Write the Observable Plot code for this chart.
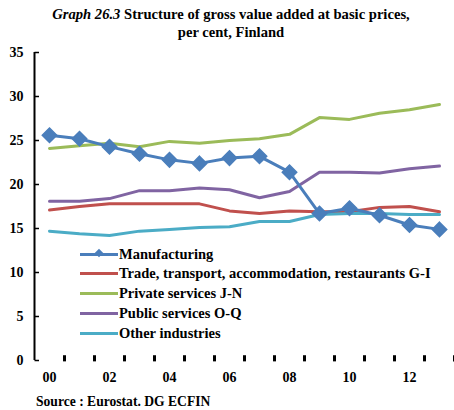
<!DOCTYPE html>
<html><head><meta charset="utf-8">
<script src="https://cdn.jsdelivr.net/npm/d3@7"></script>
<script src="https://cdn.jsdelivr.net/npm/@observablehq/plot@0.6"></script>
<style>
body{margin:0;background:#fff;font-family:"Liberation Serif","DejaVu Serif",serif;}
#wrap{position:relative;width:454px;height:410px;overflow:hidden;background:#fff;}
#title{position:absolute;top:5px;left:0;width:462px;text-align:center;font-weight:bold;font-size:14.6px;line-height:18px;color:#000;}
#chart{position:absolute;top:42px;left:0;}
#source{position:absolute;top:394px;left:36px;font-weight:bold;font-size:13.6px;line-height:16px;}
.row{position:absolute;left:80px;height:18px;display:flex;align-items:center;font-weight:bold;font-size:14.5px;white-space:nowrap;}
.sw{position:relative;width:38px;height:3px;margin-right:1px;}
.dm{position:absolute;left:16px;top:-2.5px;width:6px;height:6px;transform:rotate(45deg);}
</style>
</head><body>
<div id="wrap">
  <div id="title"><i>Graph 26.3</i> Structure of gross value added at basic prices,<br>per cent, Finland</div>
  <div id="chart"></div>
  <div id="legend"></div>
  <div id="source">Source : Eurostat. DG ECFIN</div>
</div>
<script>
const years = [2000,2001,2002,2003,2004,2005,2006,2007,2008,2009,2010,2011,2012,2013];
const manufacturing = [25.6,25.2,24.3,23.5,22.8,22.4,23.0,23.2,21.4,16.7,17.3,16.5,15.4,14.9];
const trade         = [17.1,17.5,17.8,17.8,17.8,17.8,17.0,16.7,17.0,16.9,16.9,17.4,17.5,16.9];
const privateServ   = [24.1,24.4,24.7,24.3,24.9,24.7,25.0,25.2,25.7,27.6,27.4,28.1,28.5,29.1];
const publicServ    = [18.1,18.1,18.4,19.3,19.3,19.6,19.4,18.5,19.2,21.4,21.4,21.3,21.8,22.1];
const other         = [14.7,14.4,14.2,14.7,14.9,15.1,15.2,15.8,15.8,16.6,16.7,16.7,16.6,16.6];

const seriesNames = ["Manufacturing","Trade, transport, accommodation, restaurants G-I","Private services J-N","Public services O-Q","Other industries"];
const seriesValues = [manufacturing, trade, privateServ, publicServ, other];
const seriesColors = ["#4a7ebb","#c0504d","#9bbb59","#8064a2","#4bacc6"];
const yTicks = [0,5,10,15,20,25,30,35];
const xLabelYears = [2000,2002,2004,2006,2008,2010,2012];
const xTickLabel = y => String(y).slice(2);

const rows = [];
seriesNames.forEach((name, i) => years.forEach((yr, j) => rows.push({series: name, year: yr, value: seriesValues[i][j], color: seriesColors[i]})));
const boundaries = [years[0] - 0.5, ...years.map(y => y + 0.5)];

const drawOrder = [1,2,3,4,0];
const lineMarks = drawOrder.map(i => Plot.lineY(rows.filter(r => r.series === seriesNames[i]), {x: "year", y: "value", stroke: seriesColors[i], strokeWidth: 3, curve: "linear"}));

const chart = Plot.plot({
  width: 454, height: 350,
  marginTop: 10, marginBottom: 32, marginLeft: 34, marginRight: 0,
  style: {fontFamily: "'Liberation Serif', serif", fontSize: "14px", fontWeight: "bold", background: "white"},
  x: {type: "linear", domain: [years[0] - 0.5, years[years.length - 1] + 0.5]},
  y: {domain: [0, 35]},
  marks: [
    Plot.axisY(yTicks, {tickSize: 0, tickPadding: 11, label: null, fill: "#000"}),
    Plot.axisX(xLabelYears, {tickSize: 0, tickPadding: 12, tickFormat: xTickLabel, label: null, fill: "#000"}),
    Plot.link(boundaries.slice(1), {x1: d => d, x2: d => d, y1: () => -0.1, y2: () => 0.6, stroke: "#000", strokeWidth: 3}),
    ...lineMarks,
    Plot.dot(rows.filter(r => r.series === seriesNames[0]), {x: "year", y: "value", symbol: "diamond2", r: 6.5, fill: seriesColors[0], stroke: seriesColors[0]}),
    Plot.ruleX([boundaries[0]], {y1: 0, y2: 35, stroke: "#000", strokeWidth: 2}),
    Plot.link(yTicks, {x1: () => boundaries[0], x2: () => boundaries[0] + 0.15, y1: d => d, y2: d => d, stroke: "#000", strokeWidth: 1.5})
  ]
});
document.getElementById("chart").appendChild(chart);

const legend = document.getElementById("legend");
const legendTops = [245, 264, 284, 304, 324];
seriesNames.forEach((name, i) => {
  const row = document.createElement("div");
  row.className = "row";
  row.style.top = legendTops[i] + "px";
  const sw = document.createElement("span");
  sw.className = "sw";
  sw.style.background = seriesColors[i];
  if (i === 0) {
    const dm = document.createElement("span");
    dm.className = "dm";
    dm.style.background = seriesColors[i];
    sw.appendChild(dm);
  }
  row.appendChild(sw);
  const t = document.createElement("span");
  t.textContent = name;
  row.appendChild(t);
  legend.appendChild(row);
});
</script>
</body></html>
